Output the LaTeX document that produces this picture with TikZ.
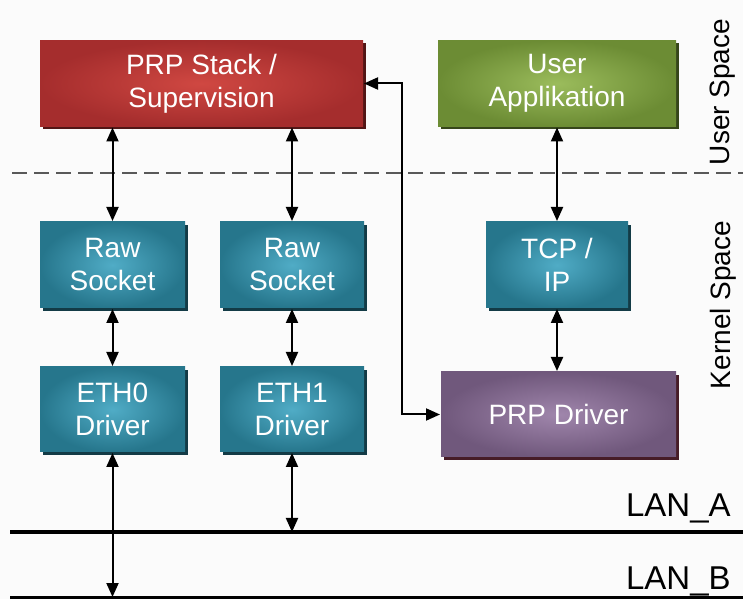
\documentclass[tikz,border=0pt]{standalone}
\usepackage{fontspec}
\setmainfont{Liberation Sans}
\usetikzlibrary{
        arrows.meta,
        positioning,
        shadows
    }
\definecolor{stackred}{RGB}{165,45,45}
\definecolor{stackredin}{RGB}{208,72,66}
\definecolor{appgreen}{RGB}{108,140,52}
\definecolor{appgreenin}{RGB}{155,188,92}
\definecolor{kernteal}{RGB}{38,118,140}
\definecolor{kerntealin}{RGB}{80,172,198}
\definecolor{drvpurple}{RGB}{112,88,124}
\definecolor{drvpurplein}{RGB}{160,134,172}
\tikzset{>={Triangle[length=14pt,width=12pt]},x=1pt,y=1pt}
\tikzset{block/.style={rectangle,minimum height=86pt,inner sep=0pt,align=center,
        text=white,font=\fontsize{28}{33}\selectfont}}
\tikzset{redblock/.style={block,inner color=stackredin,outer color=stackred,
        drop shadow={shadow xshift=3pt,shadow yshift=-3pt,fill=stackred!50!black,opacity=1}}}
\tikzset{greenblock/.style={block,inner color=appgreenin,outer color=appgreen,
        drop shadow={shadow xshift=3pt,shadow yshift=-3pt,fill=appgreen!50!black,opacity=1}}}
\tikzset{tealblock/.style={block,inner color=kerntealin,outer color=kernteal,
        drop shadow={shadow xshift=3pt,shadow yshift=-3pt,fill=kernteal!50!black,opacity=1}}}
\tikzset{purpleblock/.style={block,inner color=drvpurplein,outer color=drvpurple,
        drop shadow={shadow xshift=3pt,shadow yshift=-3pt,fill=red!30!drvpurple!45!black,opacity=1}}}
\tikzset{lan/.style={line width=3pt,black}}
\tikzset{sidelabel/.style={font=\fontsize{28}{33}\selectfont,rotate=90}}

\begin{document}
\begin{tikzpicture}[line width=2pt]
    \fill[gray!3] (0,0) rectangle (743,599);
    \useasboundingbox (0,0) rectangle (743,599);

    % user / kernel border
    \draw[gray!70!black,line width=2pt,dash pattern=on 15pt off 7pt] (12,426) -- (743,426);
    \node[sidelabel] (userspace) at (723,507) {User Space};
    \node[sidelabel] (kernelspace) at (723,294) {Kernel Space};

    % blocks
    \node[redblock,minimum width=323pt] (stack) at (201.5,515.5) {PRP Stack /\\Supervision};
    \node[greenblock,minimum width=238pt] (app) at (557,515.5) {User\\Applikation};
    \node[tealblock,minimum width=145pt] (raw0) at (112.5,334) {Raw\\Socket};
    \node[tealblock,minimum width=144pt] (raw1) at (292,334) {Raw\\Socket};
    \node[tealblock,minimum width=142pt] (tcp) at (557,334) {TCP /\\IP};
    \node[tealblock,minimum width=145pt,minimum height=85pt] (eth0) at (112.5,189.5) {ETH0\\Driver};
    \node[tealblock,minimum width=144pt,minimum height=85pt] (eth1) at (292,189.5) {ETH1\\Driver};
    \node[purpleblock,minimum width=235pt,minimum height=85pt] (drv) at (558.5,184.5) {PRP Driver};

    % networks
    \coordinate (lanAwest) at (10,67);
    \coordinate (lanAeast) at (743,67);
    \coordinate (lanBwest) at (10,2);
    \coordinate (lanBeast) at (743,2);
    \draw[lan] (lanAwest) -- (lanAeast);
    \draw[lan] (lanBwest) -- (lanBeast);
    \node[anchor=base east,font=\fontsize{33}{36}\selectfont] (lanA) at (735,82) {LAN\_A};
    \node[anchor=base east,font=\fontsize{33}{36}\selectfont] (lanB) at (735,10) {LAN\_B};

    % connections
    \draw[<->] (raw0.north) -- (raw0.north |- stack.south);
    \draw[<->] (raw1.north) -- (raw1.north |- stack.south);
    \draw[<->] (tcp.north) -- (tcp.north |- app.south);
    \draw[<->] (raw0) -- (eth0);
    \draw[<->] (raw1) -- (eth1);
    \draw[<->] (tcp.south) -- (tcp.south |- drv.north);
    \draw[<->] (eth0.south) -- (eth0.south |- lanBwest);
    \draw[<->] (eth1.south) -- (eth1.south |- lanAwest);
    \coordinate (bend) at (402,184.5);
    \draw[<->] (stack.east) -| (bend) -- (drv.west);
\end{tikzpicture}
\end{document}
